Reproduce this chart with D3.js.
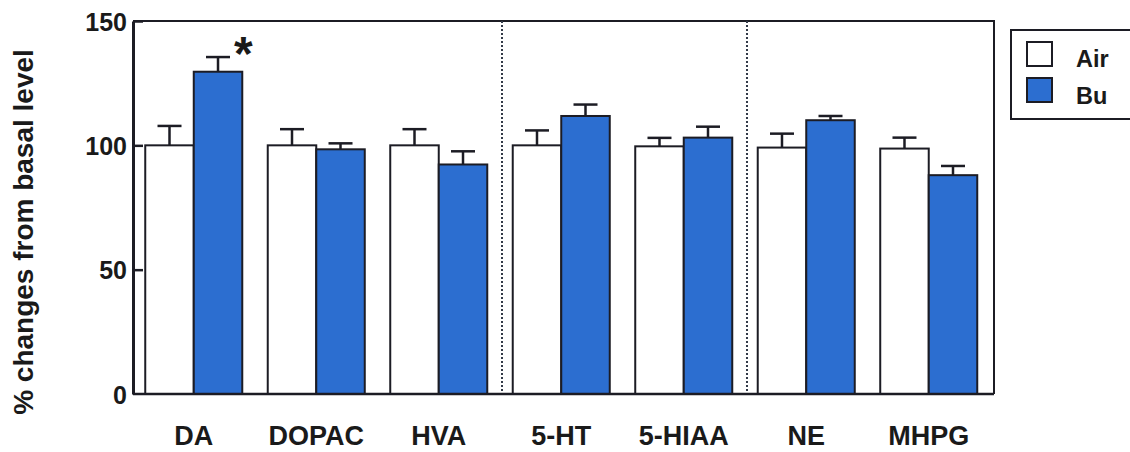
<!DOCTYPE html>
<html>
<head>
<meta charset="utf-8">
<script src="https://cdn.jsdelivr.net/npm/d3@7"></script>
<style>
  html, body { margin: 0; padding: 0; background: #ffffff; }
  svg { display: block; }
  text { font-family: "Liberation Sans", Arial, sans-serif; font-weight: bold; fill: #1a1a1a; }
</style>
</head>
<body>
<svg id="chart" width="1130" height="452"></svg>
<script>
// Monoamines and metabolites, % change from basal level
const categories = ["DA", "DOPAC", "HVA", "5-HT", "5-HIAA", "NE", "MHPG"];
const seriesNames = ["Air", "Bu"];
const airMean = [100, 100, 100, 100, 99.6, 99.1, 98.7];
const airErr  = [7.8, 6.5, 6.5, 6.0, 3.4, 5.6, 4.4];
const buMean  = [129.6, 98.4, 92.3, 111.8, 103.1, 110.1, 88.0];
const buErr   = [5.9, 2.4, 5.3, 4.6, 4.4, 1.7, 3.7];
const yTicks  = [0, 50, 100, 150];
const significant = ["DA"];          // Bu vs Air, p < 0.05
const dividersAfter = ["HVA", "5-HIAA"];

const fills = { Air: "#ffffff", Bu: "#2c6ed0" };
const ink = "#1c1c24";

const svg = d3.select("#chart");
const frame = { left: 133, right: 994, top: 21, bottom: 394 };

const y = d3.scaleLinear().domain([0, 150]).range([frame.bottom, frame.top]);
const x0 = d3.scaleBand().domain(categories)
  .range([frame.left, 989.5]).paddingInner(0.208).paddingOuter(0.1);
const x1 = d3.scaleBand().domain(seriesNames).range([0, x0.bandwidth()]);

const rows = categories.map((c, i) => ({
  cat: c,
  bars: [
    { s: "Air", v: airMean[i], e: airErr[i] },
    { s: "Bu",  v: buMean[i],  e: buErr[i] }
  ]
}));

// plot frame (top and right)
svg.append("path")
  .attr("d", `M${frame.left},${frame.top}H${frame.right}V${frame.bottom}`)
  .attr("fill", "none").attr("stroke", ink).attr("stroke-width", 2);

// dotted group dividers
dividersAfter.forEach(c => {
  const i = categories.indexOf(c);
  const xa = x0(categories[i]) + x0.bandwidth();
  const xb = x0(categories[i + 1]);
  const xm = (xa + xb) / 2 + 2;
  svg.append("line")
    .attr("x1", xm).attr("x2", xm).attr("y1", frame.top).attr("y2", frame.bottom)
    .attr("stroke", "#333a48").attr("stroke-width", 2).attr("stroke-dasharray", "2,2");
});

// bars and error bars
const groups = svg.selectAll("g.grp").data(rows).join("g")
  .attr("class", "grp").attr("transform", d => `translate(${x0(d.cat)},0)`);

groups.selectAll("line.err").data(d => d.bars).join("line")
  .attr("class", "err")
  .attr("x1", d => x1(d.s) + x1.bandwidth() / 2)
  .attr("x2", d => x1(d.s) + x1.bandwidth() / 2)
  .attr("y1", d => y(d.v)).attr("y2", d => y(d.v + d.e))
  .attr("stroke", ink).attr("stroke-width", 2.5);

groups.selectAll("line.cap").data(d => d.bars).join("line")
  .attr("class", "cap")
  .attr("x1", d => x1(d.s) + x1.bandwidth() / 2 - 12)
  .attr("x2", d => x1(d.s) + x1.bandwidth() / 2 + 12)
  .attr("y1", d => y(d.v + d.e)).attr("y2", d => y(d.v + d.e))
  .attr("stroke", ink).attr("stroke-width", 2.5);

groups.selectAll("rect").data(d => d.bars).join("rect")
  .attr("x", d => x1(d.s)).attr("width", x1.bandwidth())
  .attr("y", d => y(d.v)).attr("height", d => y(0) - y(d.v))
  .attr("fill", d => fills[d.s]).attr("stroke", ink).attr("stroke-width", 2);

// significance marker
significant.forEach(c => {
  const i = categories.indexOf(c);
  svg.append("text")
    .attr("x", x0(c) + x1("Bu") + x1.bandwidth() + 1)
    .attr("y", y(buMean[i] + buErr[i]) + 13)
    .attr("text-anchor", "middle")
    .attr("font-size", 48)
    .text("*");
});

// bottom axis line
svg.append("line")
  .attr("x1", frame.left).attr("x2", frame.right)
  .attr("y1", frame.bottom).attr("y2", frame.bottom)
  .attr("stroke", ink).attr("stroke-width", 2.5);

// y axis
const yAxis = svg.append("g")
  .attr("transform", `translate(${frame.left},0)`)
  .call(d3.axisLeft(y).tickValues(yTicks).tickSizeInner(-10).tickSizeOuter(0).tickPadding(7));
yAxis.select(".domain").attr("stroke", ink).attr("stroke-width", 3);
yAxis.selectAll(".tick line").attr("stroke", ink).attr("stroke-width", 2.5);
yAxis.selectAll(".tick text")
  .attr("x", -6).attr("dy", "0.36em")
  .style("font-family", "'Liberation Sans', Arial, sans-serif")
  .style("font-weight", "bold").style("font-size", "25px").attr("fill", "#1a1a1a");
yAxis.selectAll(".tick").filter(d => d === 0).select("line").remove();

// x category labels
svg.selectAll("text.cat").data(categories).join("text")
  .attr("class", "cat")
  .attr("x", d => x0(d) + x0.bandwidth() / 2)
  .attr("y", 445)
  .attr("text-anchor", "middle")
  .attr("font-size", 27)
  .text(d => d);

// y axis title
svg.append("text")
  .attr("transform", "translate(33,232) rotate(-90)")
  .attr("text-anchor", "middle")
  .attr("font-size", 28)
  .text("% changes from basal level");

// legend
const lg = svg.append("g");
lg.append("rect").attr("x", 1011).attr("y", 30).attr("width", 130).attr("height", 89)
  .attr("fill", "#ffffff").attr("stroke", ink).attr("stroke-width", 2);
seriesNames.forEach((s, i) => {
  lg.append("rect").attr("x", 1027).attr("y", 42 + i * 36).attr("width", 25).attr("height", 24)
    .attr("fill", fills[s]).attr("stroke", ink).attr("stroke-width", 2);
  lg.append("text").attr("x", 1076).attr("y", 67 + i * 37).attr("font-size", 23.5).text(s);
});
</script>
</body>
</html>
